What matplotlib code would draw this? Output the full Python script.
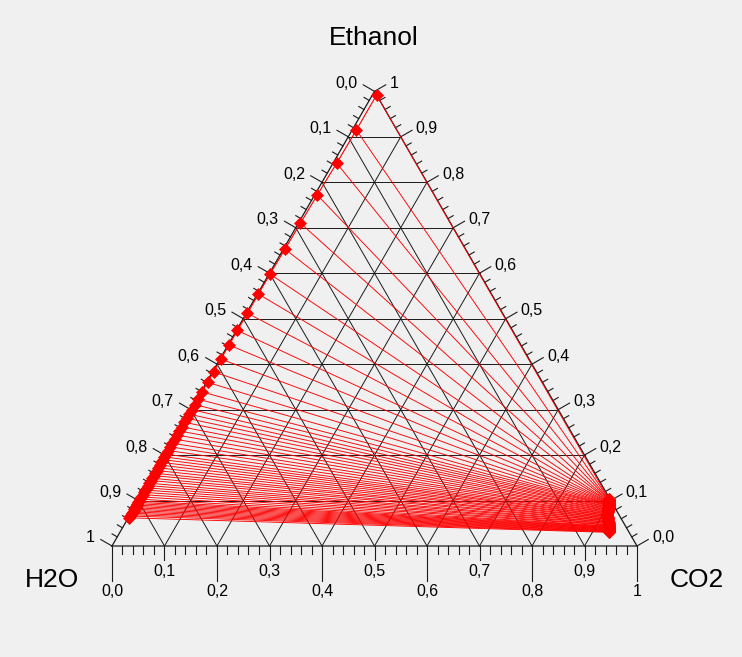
import numpy as np
import matplotlib
matplotlib.use("Agg")
import matplotlib.pyplot as plt

plt.rcParams['font.family'] = ['Liberation Sans', 'DejaVu Sans']

# water-rich phase: ethanol and CO2 fractions at each tie line
liq_ethanol = [0.992, 0.915, 0.842, 0.772, 0.710, 0.653, 0.598, 0.554, 0.512, 0.474,
               0.442, 0.411, 0.383, 0.360, 0.339, 0.323,
               0.311, 0.300, 0.290, 0.281, 0.272, 0.262, 0.253, 0.244, 0.235, 0.226,
               0.218, 0.210, 0.202,
               0.196, 0.190, 0.184, 0.178, 0.172, 0.166, 0.160, 0.155, 0.149, 0.144,
               0.138, 0.133, 0.128, 0.123, 0.118, 0.113, 0.108, 0.103,
               0.099, 0.096, 0.093, 0.090, 0.087, 0.084, 0.081, 0.078, 0.075, 0.072,
               0.069, 0.066, 0.062]
liq_co2 = [0.008, 0.008, 0.007, 0.005, 0.004, 0.003, 0.002, 0.002, 0.002, 0.002,
           0.002, 0.002, 0.002, 0.002, 0.002, 0.002,
           0.002, 0.002, 0.002, 0.002, 0.002, 0.002, 0.002, 0.002, 0.002, 0.002,
           0.002, 0.002, 0.002,
           0.002, 0.002, 0.002, 0.002, 0.002, 0.002, 0.002, 0.002, 0.002, 0.002,
           0.002, 0.002, 0.002, 0.002, 0.002, 0.002, 0.002, 0.002,
           0.002, 0.002, 0.002, 0.002, 0.002, 0.002, 0.002, 0.002, 0.002, 0.002,
           0.002, 0.002, 0.002]

# CO2-rich phase: ethanol and water fractions at each tie line
vap_ethanol = [0.104, 0.103, 0.102, 0.101, 0.100, 0.099, 0.098, 0.097, 0.096, 0.095,
               0.094, 0.093, 0.092, 0.091, 0.090, 0.089,
               0.088, 0.086, 0.085, 0.083, 0.082, 0.080, 0.079, 0.077, 0.076, 0.074,
               0.073, 0.071, 0.070,
               0.068, 0.067, 0.065, 0.064, 0.062, 0.061, 0.059, 0.058, 0.056, 0.055,
               0.053, 0.052, 0.050, 0.049, 0.047, 0.046, 0.044, 0.043,
               0.042, 0.041, 0.040, 0.039, 0.038, 0.037, 0.036, 0.035, 0.034, 0.033,
               0.032, 0.031, 0.030]
vap_water = [0.002, 0.002, 0.003, 0.003, 0.004, 0.004, 0.005, 0.005, 0.006, 0.006,
             0.007, 0.007, 0.008, 0.008, 0.009, 0.009,
             0.010, 0.011, 0.012, 0.013, 0.014, 0.015, 0.016, 0.017, 0.018, 0.019,
             0.020, 0.021, 0.022,
             0.023, 0.023, 0.024, 0.024, 0.025, 0.025, 0.026, 0.026, 0.027, 0.027,
             0.028, 0.028, 0.029, 0.029, 0.030, 0.030, 0.031, 0.031,
             0.032, 0.032, 0.033, 0.033, 0.034, 0.034, 0.035, 0.035, 0.036, 0.036,
             0.037, 0.037, 0.038]

tick_labels = ["0,0", "0,1", "0,2", "0,3", "0,4", "0,5", "0,6", "0,7", "0,8", "0,9", "1"]

S = np.sqrt(3) / 2
PX = 1 / 525.0  # one pixel in data units


def to_xy(co2, ethanol):
    co2 = np.asarray(co2, dtype=float)
    ethanol = np.asarray(ethanol, dtype=float)
    return co2 + ethanol / 2, ethanol * S


fig = plt.figure(figsize=(7.42, 6.57), dpi=100, facecolor='#f0f0f0')
ax = fig.add_axes([0, 0, 1, 1])
ax.set_facecolor('#f0f0f0')
ax.set_xlim(-112 * PX, 630 * PX)
ax.set_ylim(-111 * PX, 546 * PX)
ax.axis('off')

black = '#1a1a1a'

# triangle border
bx, by = to_xy([0, 1, 0, 0], [0, 0, 1, 0])
ax.plot(bx, by, color=black, lw=0.9, zorder=1)

# grid lines parallel to each side
for v in np.arange(1, 10) / 10:
    gx, gy = to_xy([0, 1 - v], [v, v])
    ax.plot(gx, gy, color=black, lw=0.7, zorder=1)
    gx, gy = to_xy([v, v], [0, 1 - v])
    ax.plot(gx, gy, color=black, lw=0.7, zorder=1)
    gx, gy = to_xy([1 - v, 0], [0, 1 - v])
    ax.plot(gx, gy, color=black, lw=0.7, zorder=1)

lab_fs = 11.5

# bottom axis (CO2)
for k in range(51):
    x = k / 50
    if k % 10 == 0:
        ln = 35
    elif k % 5 == 0:
        ln = 14
    else:
        ln = 8
    ax.plot([x, x], [0, -ln * PX], color=black, lw=0.8, zorder=1)
for i, lab in enumerate(tick_labels):
    dy = 46 if i % 2 == 0 else 26
    ax.text(i / 10, -dy * PX, lab, ha='center', va='center', fontsize=lab_fs)

# left axis (H2O), outward normal points up-left
nl = np.array([-S, 0.5])
nr = np.array([S, 0.5])
for k in range(51):
    w = k / 50
    px, py = to_xy(0, 1 - w)
    ln = 13 if k % 5 == 0 else 6
    ax.plot([px, px + nl[0] * ln * PX], [py, py + nl[1] * ln * PX],
            color=black, lw=0.8, zorder=1)
for i, lab in enumerate(tick_labels):
    px, py = to_xy(0, 1 - i / 10)
    ax.text(px - 17 * PX, py + 8 * PX, lab, ha='right', va='center', fontsize=lab_fs)

# right axis (Ethanol), outward normal points up-right
for k in range(51):
    e = k / 50
    px, py = to_xy(1 - e, e)
    ln = 13 if k % 5 == 0 else 6
    ax.plot([px, px + nr[0] * ln * PX], [py, py + nr[1] * ln * PX],
            color=black, lw=0.8, zorder=1)
for i, lab in enumerate(tick_labels):
    e = i / 10
    px, py = to_xy(1 - e, e)
    ax.text(px + 15 * PX, py + 8 * PX, lab, ha='left', va='center', fontsize=lab_fs)

# tie lines and phase boundaries
lx, ly = to_xy(liq_co2, liq_ethanol)
vap_co2 = 1 - np.asarray(vap_ethanol) - np.asarray(vap_water)
vx, vy = to_xy(vap_co2, vap_ethanol)
for i in range(len(lx)):
    ax.plot([lx[i], vx[i]], [ly[i], vy[i]], color='red', lw=0.65, zorder=2)
ax.plot(lx, ly, color='red', lw=0.8, marker='D', ms=6, mew=0.5, zorder=3)
ax.plot(vx, vy, color='red', lw=0.8, marker='D', ms=6, mew=0.5, zorder=3)

# component names at the corners
ax.text(0.499, (546 - 38) * PX, "Ethanol", ha='center', va='center', fontsize=19)
ax.text(-60 * PX, -34 * PX, "H2O", ha='center', va='center', fontsize=19)
ax.text(585 * PX, -34 * PX, "CO2", ha='center', va='center', fontsize=19)

fig.savefig("out.png", dpi=100, facecolor=fig.get_facecolor())
